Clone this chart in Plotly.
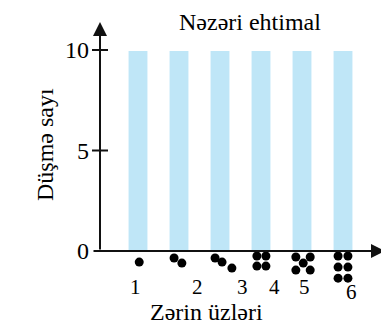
import plotly.graph_objects as go

faces = [1, 2, 3, 4, 5, 6]
counts = [10, 10, 10, 10, 10, 10]
face_labels = ["1", "2", "3", "4", "5", "6"]
yticks = [0, 5, 10]

# pip layout offsets (data units relative to face centre) - styling
pip_patterns = {
    1: [(0.03, -0.55)],
    2: [(-0.12, -0.35), (0.07, -0.6)],
    3: [(-0.12, -0.35), (0.05, -0.55), (0.29, -0.85)],
    4: [(-0.1, -0.25), (0.12, -0.25), (-0.1, -0.75), (0.12, -0.75)],
    5: [(-0.15, -0.3), (0.2, -0.3), (0.03, -0.6), (-0.15, -0.95), (0.2, -0.95)],
    6: [(-0.12, -0.25), (0.12, -0.25), (-0.12, -0.8), (0.12, -0.8), (-0.12, -1.35), (0.12, -1.35)],
}
label_offsets = [(-0.05, -1.8), (0.46, -1.8), (0.54, -1.8), (0.32, -1.8), (0.05, -1.8), (0.2, -2.05)]

# page has an 8px body margin: work in page pixels, then shift
OFF = 8
W, H = 389 - OFF, 330 - OFF
PX_PER_X, PX_PER_Y = 41.0, 20.1
X1_PAGE, Y0_PAGE = 138, 251          # page pixel of x=1 and y=0
PL, PR, PT, PB = 100, 385, 22, 305    # plot area in page pixels
XMIN = 1 - (X1_PAGE - PL) / PX_PER_X
XMAX = 1 + (PR - X1_PAGE) / PX_PER_X
YMAX = (Y0_PAGE - PT) / PX_PER_Y
YMIN = -(PB - Y0_PAGE) / PX_PER_Y
L, T = PL - OFF, PT - OFF
R, B = (389 - PR), (330 - PB)
pw, ph = PR - PL, PB - PT

def paper_x(p):
    return (p - PL) / pw

def paper_y(p):
    return (PB - p) / ph

font = "Liberation Serif, DejaVu Serif"
ink = "black"

fig = go.Figure()
fig.add_trace(go.Bar(x=faces, y=counts, width=0.46, base=-0.05, marker_color="#bfe6f7",
                     marker_line_width=0, hoverinfo="skip"))

px_, py_ = [], []
for f in faces:
    for dx, dy in pip_patterns[f]:
        px_.append(f + dx)
        py_.append(dy)
fig.add_trace(go.Scatter(x=px_, y=py_, mode="markers", cliponaxis=False,
                         marker=dict(size=9, color="black"), hoverinfo="skip"))

ann = []
for f, lab, (dx, dy) in zip(faces, face_labels, label_offsets):
    ann.append(dict(x=f + dx, y=dy, xref="x", yref="y", text=lab, showarrow=False,
                    font=dict(family=font, size=21, color=ink)))

# y axis arrow
ann.append(dict(x=XMIN, y=YMAX, xref="x", yref="y", ax=XMIN, ay=0,
                axref="x", ayref="y", showarrow=True, arrowhead=2,
                arrowsize=1.4, arrowwidth=2, arrowcolor="#111", text=""))
# x axis arrow
ann.append(dict(x=XMAX, y=0, xref="x", yref="y", ax=XMIN - 8 / PX_PER_X, ay=0,
                axref="x", ayref="y", showarrow=True, arrowhead=2,
                arrowsize=1.4, arrowwidth=2, arrowcolor="#111", text=""))
# titles
ann.append(dict(x=paper_x(250), y=paper_y(22), xref="paper", yref="paper", text="Nəzəri ehtimal",
                showarrow=False, yanchor="middle", font=dict(family=font, size=24, color=ink)))
ann.append(dict(x=paper_x(206), y=paper_y(312), xref="paper", yref="paper",
                text="Zərin üzləri", showarrow=False, yanchor="middle",
                font=dict(family=font, size=24, color=ink)))
ann.append(dict(x=paper_x(30), y=paper_y(145), xref="paper", yref="paper",
                text="Düşmə sayı", textangle=-90, showarrow=False,
                font=dict(family=font, size=24, color=ink)))

shapes = []
for t in yticks[1:]:
    shapes.append(dict(type="line", xref="paper", yref="y", x0=-8 / pw, x1=8 / pw,
                       y0=t, y1=t, line=dict(color="#111", width=2)))

fig.update_layout(
    width=W, height=H, margin=dict(l=L, r=R, t=T, b=B, pad=0),
    plot_bgcolor="white", paper_bgcolor="white", showlegend=False,
    font=dict(family=font, color=ink),
    xaxis=dict(range=[XMIN, XMAX], showgrid=False, zeroline=False,
               showline=False, showticklabels=False, fixedrange=True),
    yaxis=dict(range=[YMIN, YMAX], showgrid=False, zeroline=False,
               showline=False, tickvals=yticks, ticktext=[str(v) for v in yticks],
               ticks="", ticklabelstandoff=10, fixedrange=True,
               tickfont=dict(family=font, size=24, color=ink)),
    annotations=ann, shapes=shapes,
)

fig.write_html("out.html")
